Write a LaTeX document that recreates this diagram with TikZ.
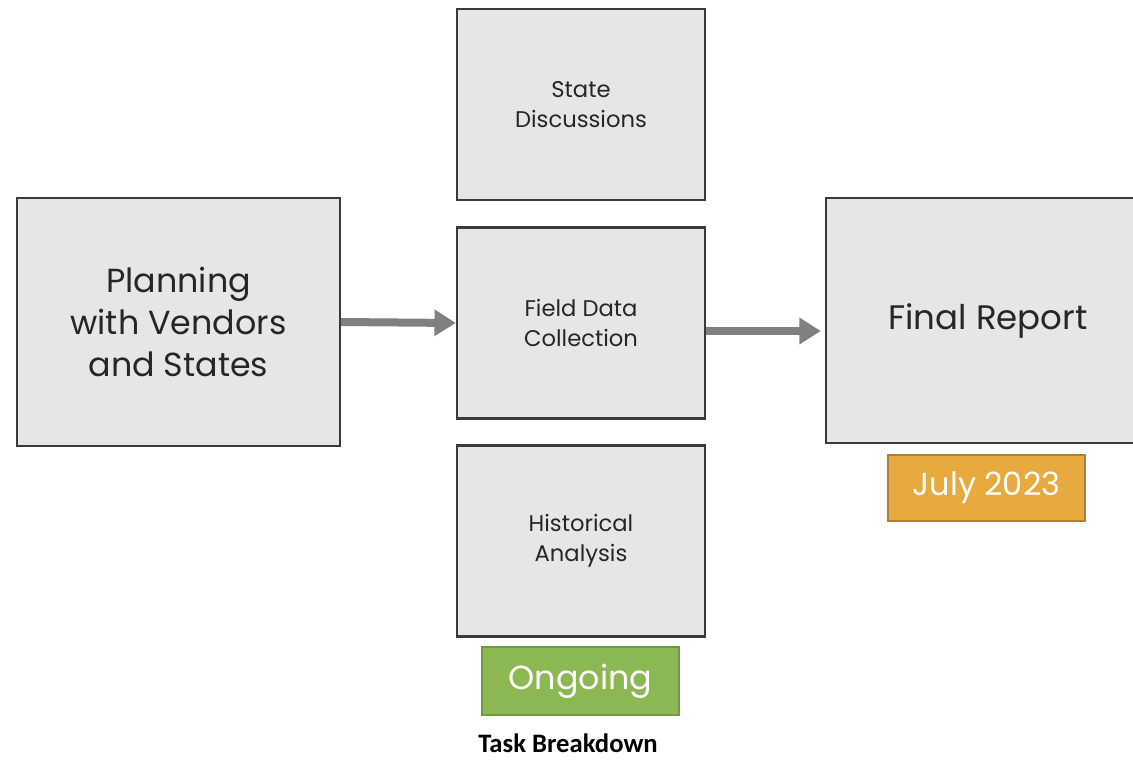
\documentclass[tikz,border=0pt]{standalone}
\usepackage{xcolor}
\usepackage{fontspec}
\setmainfont{Poppins}
\newfontfamily\captionfont{Carlito}
\usetikzlibrary{arrows.meta,positioning}

\definecolor{boxfill}{HTML}{E6E6E6}
\definecolor{boxline}{HTML}{3A3A3A}
\definecolor{arrowgray}{HTML}{808080}
\definecolor{julyfill}{HTML}{E8A93F}
\definecolor{julyline}{HTML}{B2812F}
\definecolor{gofill}{HTML}{8BB852}
\definecolor{goline}{HTML}{6F9A3D}

\begin{document}
\begin{tikzpicture}[x=0.75pt,y=-0.75pt,
    taskbox/.style={draw=boxline,line width=1.8pt,fill=boxfill,inner sep=0pt,align=center,text=black!85},
    midbox/.style={taskbox,minimum width=186pt,minimum height=143pt,font=\fontsize{17}{22.5}\selectfont},
    datetag/.style={draw,line width=1.2pt,inner sep=0pt,minimum width=148pt,text=white},
    flow/.style={draw=arrowgray,line width=6pt,-{Triangle[length=16pt,width=19pt]}}]
                \useasboundingbox (0,0) rectangle (1133,761);

                \node[taskbox,minimum width=242pt,minimum height=186pt,font=\fontsize{25}{31.5}\selectfont] (planning) at (178.5,322) {Planning\\with Vendors\\and States};
                \node[midbox] (state) at (581,104.5) {State\\Discussions};
                \node[midbox] (field) at (581,323) {Field Data\\Collection};
                \node[midbox] (history) at (581,541) {Historical\\Analysis};
                \node[taskbox,minimum width=243pt,minimum height=184pt,font=\fontsize{25.5}{30}\selectfont] (final) at (988,320.5) {Final Report};

                \node[datetag,draw=julyline,fill=julyfill,minimum height=49.5pt,font=\fontsize{24}{28}\selectfont] (july) at (986.5,488) {July 2023};
                \node[datetag,draw=goline,fill=gofill,minimum height=51pt,font=\fontsize{25}{29}\selectfont] (ongoing) at (580.5,681) {Ongoing};

                \node[inner sep=0pt,font=\captionfont\bfseries\fontsize{20}{24}\selectfont] (caption) at (568,743) {Task Breakdown};

                \draw[flow] (planning.east) -- (field.west);
                \coordinate (fieldout) at ([yshift=-6pt]field.east);
                \draw[flow] (fieldout) -- ([xshift=-3pt]fieldout -| final.west);
            \end{tikzpicture}
\end{document}
